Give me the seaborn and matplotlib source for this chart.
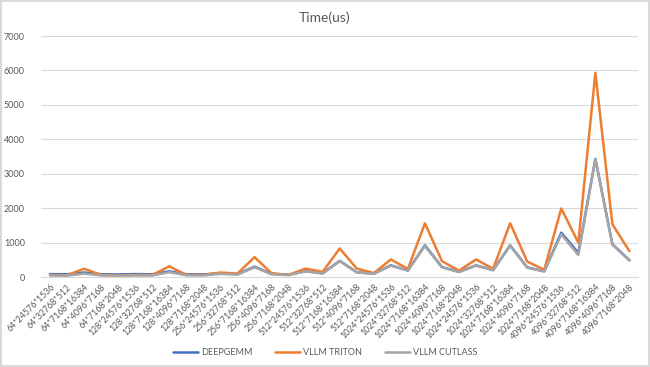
import numpy as np
import pandas as pd
import matplotlib
matplotlib.use("Agg")
import matplotlib.pyplot as plt
import matplotlib.transforms as mtransforms
import seaborn as sns

shapes = ["64*24576*1536", "64*32768*512", "64*7168*16384", "64*4096*7168", "64*7168*2048",
          "128*24576*1536", "128*32768*512", "128*7168*16384", "128*4096*7168", "128*7168*2048",
          "256*24576*1536", "256*32768*512", "256*7168*16384", "256*4096*7168", "256*7168*2048",
          "512*24576*1536", "512*32768*512", "512*7168*16384", "512*4096*7168", "512*7168*2048",
          "1024*24576*1536", "1024*32768*512", "1024*7168*16384", "1024*4096*7168", "1024*7168*2048",
          "1024*24576*1536", "1024*32768*512", "1024*7168*16384", "1024*4096*7168", "1024*7168*2048",
          "4096*24576*1536", "4096*32768*512", "4096*7168*16384", "4096*4096*7168", "4096*7168*2048"]

deepgemm = [85, 80, 130, 80, 75, 85, 80, 165, 80, 75, 110, 85, 300, 90, 70, 170, 110, 470, 140, 95,
            340, 190, 920, 290, 150, 340, 200, 920, 280, 165, 1290, 700, 3430, 950, 490]
vllm_triton = [60, 50, 240, 60, 50, 60, 60, 310, 60, 60, 130, 100, 577, 110, 60, 245, 150, 830, 245, 115,
               510, 235, 1560, 460, 185, 510, 240, 1560, 450, 210, 1990, 1000, 5930, 1530, 750]
vllm_cutlass = [45, 40, 100, 45, 40, 45, 45, 140, 50, 45, 90, 70, 283, 80, 55, 165, 100, 460, 135, 90,
                330, 185, 900, 280, 145, 330, 195, 910, 270, 160, 1240, 640, 3430, 940, 480]

series = ["DEEPGEMM", "VLLM TRITON", "VLLM CUTLASS"]
colors = ["#4472C4", "#ED7D31", "#A5A5A5"]

pos = np.arange(len(shapes))
df = pd.concat([
    pd.DataFrame({"pos": pos, "time": vals, "series": name})
    for name, vals in zip(series, [deepgemm, vllm_triton, vllm_cutlass])
])

sns.set_style("white")
plt.rcParams["font.family"] = ["Lato", "DejaVu Sans"]
txt = "#595959"

fig = plt.figure(figsize=(6.5, 3.67), dpi=100)
fig.patch.set_edgecolor("#D9D9D9")
fig.patch.set_linewidth(1.5)
ax = fig.add_axes([0.0638, 0.2452, 0.9177, 0.6567])

sns.lineplot(data=df, x="pos", y="time", hue="series", palette=colors,
             hue_order=series, sort=False, linewidth=1.8, ax=ax, legend=False)

ax.set_xlim(-0.5, len(shapes) - 0.5)
ax.set_ylim(0, 7000)
ax.set_yticks(np.arange(0, 7001, 1000))
ax.yaxis.grid(True, color="#D9D9D9", linewidth=0.8)
ax.set_axisbelow(True)
for s in ["top", "right", "left"]:
    ax.spines[s].set_visible(False)
ax.spines["bottom"].set_color("#D9D9D9")
ax.spines["bottom"].set_linewidth(0.8)

ax.set_xticks(pos)
ax.set_xticklabels(shapes, rotation=45, ha="right", rotation_mode="anchor",
                   fontsize=6.3, color=txt)
shift = mtransforms.ScaledTranslation(6 / 100, 0, fig.dpi_scale_trans)
for lab in ax.get_xticklabels():
    lab.set_transform(lab.get_transform() + shift)
ax.tick_params(axis="x", length=0, pad=4)
ax.tick_params(axis="y", length=0, pad=12, labelsize=6.5, labelcolor=txt)
ax.set_xlabel("")
ax.set_ylabel("")

fig.text(0.5, 0.952, "Time(us)", ha="center", va="center", fontsize=10, color=txt)

handles = [plt.Line2D([], [], color=c, linewidth=1.8) for c in colors]
fig.legend(handles, series, loc="center", bbox_to_anchor=(0.5, 0.04), ncol=3,
           frameon=False, fontsize=6.5, handlelength=2.8, handletextpad=0.3,
           columnspacing=2.5, labelcolor=txt)

fig.savefig("out.png", dpi=100)
